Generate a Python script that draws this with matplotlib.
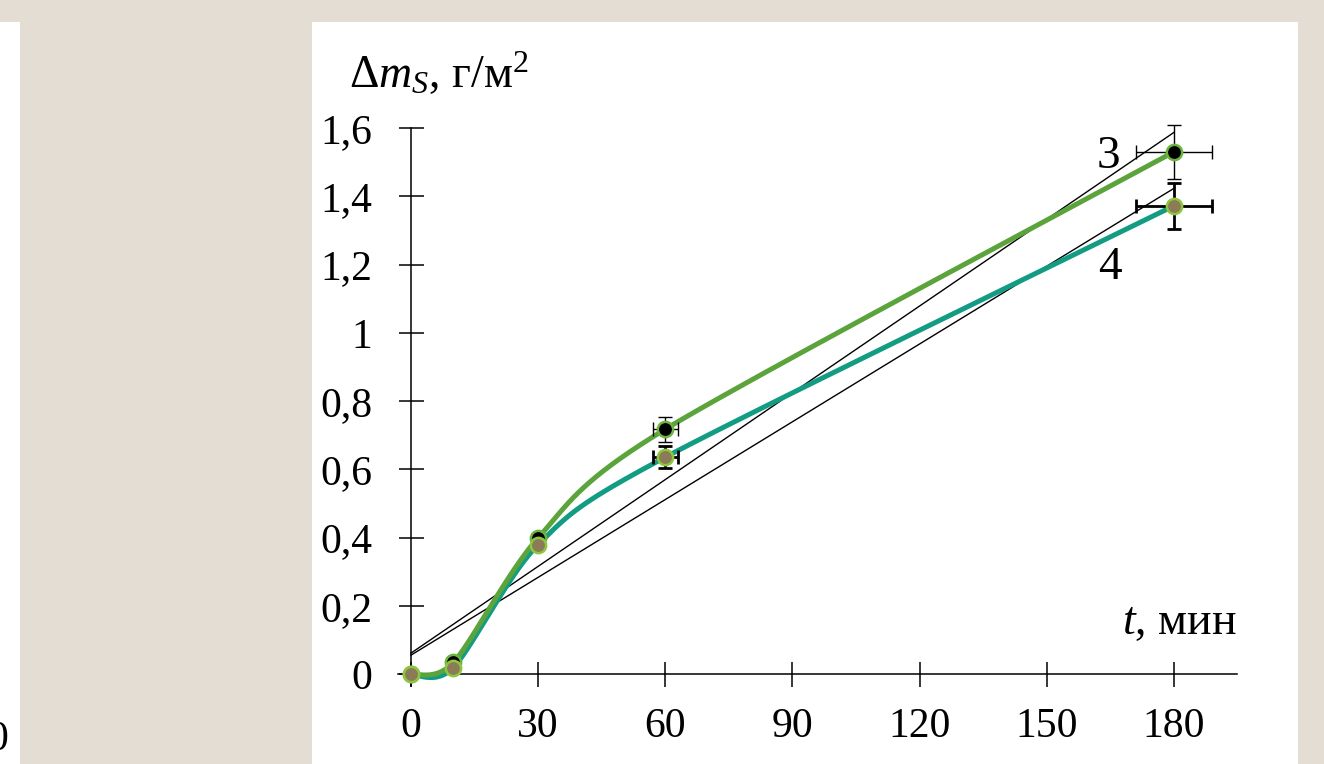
import numpy as np
import matplotlib
matplotlib.use("Agg")
import matplotlib.pyplot as plt
from matplotlib.patches import Rectangle

plt.rcParams['font.family'] = ['Liberation Serif', 'DejaVu Serif']
plt.rcParams['mathtext.fontset'] = 'custom'
plt.rcParams['mathtext.rm'] = 'Liberation Serif'
plt.rcParams['mathtext.it'] = 'Liberation Serif:italic'

# data
t = [0, 10, 30, 60, 180]
dm3 = [0, 0.035, 0.40, 0.718, 1.53]
dm4 = [0, 0.02, 0.38, 0.636, 1.372]
err_t3 = [0, 0, 0, 3, 9]
err_m3 = [0, 0, 0, 0.037, 0.08]
err_t4 = [0, 0, 0, 3, 9]
err_m4 = [0, 0, 0, 0.032, 0.067]

xticks = [0, 30, 60, 90, 120, 150, 180]
yticks = [0, 0.2, 0.4, 0.6, 0.8, 1.0, 1.2, 1.4, 1.6]
ylabels = ['0', '0,2', '0,4', '0,6', '0,8', '1', '1,2', '1,4', '1,6']


def smooth(x, y, n=40, f=1 / 6):
    # excel-like smoothed line (bezier through the points)
    x = np.asarray(x, float)
    y = np.asarray(y, float)
    pts = np.column_stack([x, y])
    out = []
    for i in range(len(pts) - 1):
        p0 = pts[max(i - 1, 0)]
        p1 = pts[i]
        p2 = pts[i + 1]
        p3 = pts[min(i + 2, len(pts) - 1)]
        c1 = p1 + (p2 - p0) * f
        c2 = p2 - (p3 - p1) * f
        s = np.linspace(0, 1, n)[:, None]
        seg = ((1 - s) ** 3) * p1 + 3 * ((1 - s) ** 2) * s * c1 + 3 * (1 - s) * s ** 2 * c2 + s ** 3 * p2
        out.append(seg if i == 0 else seg[1:])
    out = np.vstack(out)
    return out[:, 0], out[:, 1]


W, H = 1324, 764
fig = plt.figure(figsize=(W / 100, H / 100), dpi=100)
fig.patch.set_facecolor('#e3ddd3')
fig.patches.append(Rectangle((0, 0), 20 / W, 742 / H, transform=fig.transFigure,
                             facecolor='white', edgecolor='none', zorder=-5))
fig.patches.append(Rectangle((312 / W, 0), 986 / W, 742 / H, transform=fig.transFigure,
                             facecolor='white', edgecolor='none', zorder=-5))
fig.text(-13 / W, 24 / H, '0', fontsize=30, ha='left', va='center')

ax = fig.add_axes([398 / W, (764 - 686) / H, (1237 - 398) / W, (686 - 128) / H])
ax.set_zorder(2)
ax.set_facecolor('none')
ax.set_xlim(-3.07, 194.9)
ax.set_ylim(-0.034, 1.6)

for s in ['top', 'right']:
    ax.spines[s].set_visible(False)
ax.spines['left'].set_position(('data', 0))
ax.spines['bottom'].set_position(('data', 0))
for s in ['left', 'bottom']:
    ax.spines[s].set_linewidth(1.1)

ax.set_xticks(xticks)
ax.set_xticklabels([str(v) for v in xticks])
ax.set_yticks(yticks)
ax.set_yticklabels(ylabels)
ax.tick_params(axis='both', direction='inout', length=18, width=1.1, labelsize=30)
ax.tick_params(axis='y', pad=19)
ax.tick_params(axis='x', pad=15)

# linear trends
tt = np.array([0, 180])
for y in (dm3, dm4):
    k, b = np.polyfit(t, y, 1)
    ax.plot(tt, k * tt + b, color='black', lw=1.0, zorder=2, clip_on=False)

# smoothed curves
sx, sy = smooth(t, dm4, f=0.14)
ax.plot(sx, sy, color='#139c84', lw=3.6, zorder=3, clip_on=False)
sx, sy = smooth(t, dm3, f=0.14)
ax.plot(sx, sy, color='#5ba33b', lw=3.6, zorder=3, clip_on=False)

# error bars
ax.errorbar(t, dm3, xerr=err_t3, yerr=err_m3, fmt='none', ecolor='black',
            elinewidth=1.0, capsize=5, capthick=1.0, zorder=4, clip_on=False)
ax.errorbar(t, dm4, xerr=err_t4, yerr=err_m4, fmt='none', ecolor='black',
            elinewidth=2.0, capsize=5, capthick=2.0, zorder=4, clip_on=False)

ax.plot(t, dm3, 'o', ms=11, mfc='black', mec='#6cb33f', mew=1.8, zorder=5, clip_on=False)
ax.plot(t, dm4, 'o', ms=11, mfc='#8b7b57', mec='#8dc63f', mew=1.8, zorder=5, clip_on=False)

ax.text(164.5, 1.516, '3', fontsize=34, ha='center', va='center')
ax.text(165, 1.19, '4', fontsize=34, ha='center', va='center')

ax.text(194.9, 0.118, r'$t$, мин', fontsize=33, ha='right', va='baseline')
fig.text(349 / W, (764 - 88) / H, r'$\Delta\mathit{m}_\mathit{S}$, г/м$^2$', fontsize=33,
         ha='left', va='baseline')

fig.savefig('out.png', dpi=100, facecolor=fig.get_facecolor())
